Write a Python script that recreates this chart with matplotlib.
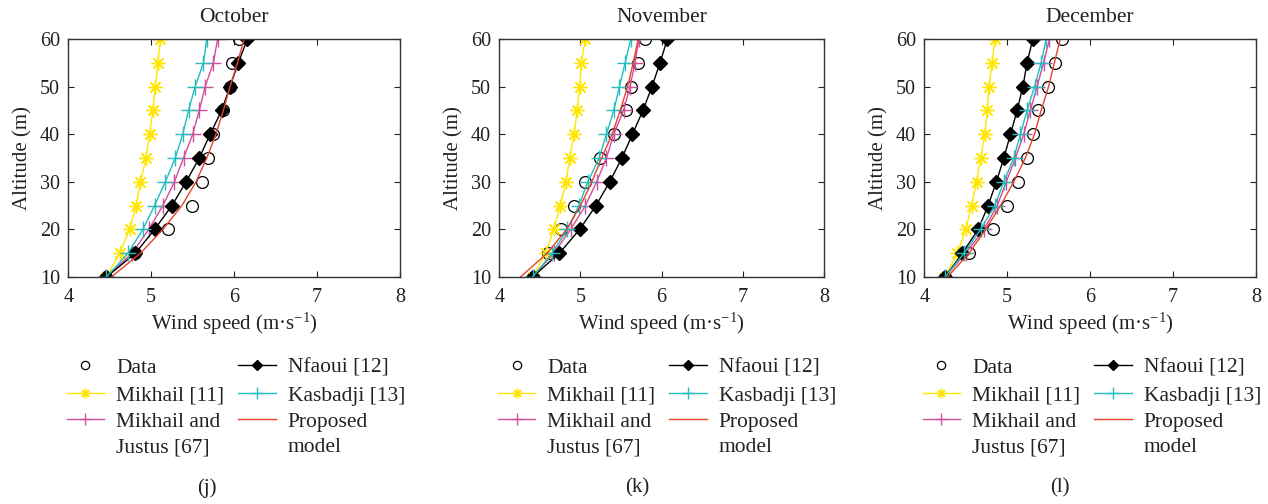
import matplotlib
matplotlib.use("Agg")
import numpy as np
import matplotlib.pyplot as plt
from matplotlib.legend_handler import HandlerLine2D

plt.rcParams['font.family'] = ['Liberation Serif', 'DejaVu Serif']
plt.rcParams['mathtext.fontset'] = 'custom'
plt.rcParams['mathtext.rm'] = 'Liberation Serif'
plt.rcParams['mathtext.it'] = 'Liberation Serif:italic'

heights = [10, 15, 20, 25, 30, 35, 40, 45, 50, 55, 60]

months = ["October", "November", "December"]
captions = ["(j)", "(k)", "(l)"]

data_oct = [4.46, 4.81, 5.20, 5.49, 5.61, 5.69, 5.75, 5.87, 5.95, 5.97, 6.06]
mikhail_oct = [4.46, 4.62, 4.74, 4.82, 4.87, 4.94, 4.98, 5.02, 5.05, 5.08, 5.11]
mj_oct = [4.46, 4.77, 4.97, 5.14, 5.28, 5.39, 5.50, 5.58, 5.65, 5.75, 5.80]
nfaoui_oct = [4.46, 4.81, 5.04, 5.25, 5.42, 5.58, 5.71, 5.85, 5.95, 6.05, 6.16]
kasbadji_oct = [4.46, 4.72, 4.90, 5.04, 5.17, 5.29, 5.38, 5.45, 5.53, 5.63, 5.67]
proposed_oct = [4.52, 4.87, 5.14, 5.37, 5.54, 5.67, 5.78, 5.87, 5.95, 6.04, 6.12]

data_nov = [4.41, 4.60, 4.76, 4.92, 5.06, 5.24, 5.41, 5.56, 5.62, 5.71, 5.79]
mikhail_nov = [4.41, 4.57, 4.67, 4.75, 4.82, 4.87, 4.92, 4.96, 4.99, 5.01, 5.06]
mj_nov = [4.41, 4.67, 4.88, 5.06, 5.20, 5.32, 5.41, 5.53, 5.61, 5.67, 5.72]
nfaoui_nov = [4.41, 4.74, 4.99, 5.19, 5.36, 5.51, 5.64, 5.77, 5.88, 5.98, 6.07]
kasbadji_nov = [4.41, 4.65, 4.84, 4.98, 5.09, 5.23, 5.32, 5.41, 5.48, 5.55, 5.62]
proposed_nov = [4.26, 4.59, 4.83, 5.00, 5.14, 5.26, 5.39, 5.49, 5.58, 5.65, 5.71]

data_dec = [4.25, 4.54, 4.83, 5.00, 5.13, 5.24, 5.31, 5.37, 5.49, 5.58, 5.66]
mikhail_dec = [4.25, 4.40, 4.50, 4.57, 4.63, 4.68, 4.73, 4.76, 4.78, 4.82, 4.85]
mj_dec = [4.25, 4.50, 4.72, 4.88, 4.99, 5.10, 5.20, 5.28, 5.36, 5.44, 5.51]
nfaoui_dec = [4.25, 4.46, 4.65, 4.77, 4.87, 4.96, 5.04, 5.12, 5.19, 5.24, 5.31]
kasbadji_dec = [4.25, 4.48, 4.68, 4.85, 4.96, 5.08, 5.16, 5.24, 5.33, 5.41, 5.47]
proposed_dec = [4.28, 4.54, 4.74, 4.92, 5.08, 5.22, 5.33, 5.41, 5.50, 5.57, 5.64]

series_names = ["Data", "Mikhail [11]", "Mikhail and\nJustus [67]",
                "Nfaoui [12]", "Kasbadji [13]", "Proposed\nmodel"]

month_series = [
    [data_oct, mikhail_oct, mj_oct, nfaoui_oct, kasbadji_oct, proposed_oct],
    [data_nov, mikhail_nov, mj_nov, nfaoui_nov, kasbadji_nov, proposed_nov],
    [data_dec, mikhail_dec, mj_dec, nfaoui_dec, kasbadji_dec, proposed_dec],
]

xticks = [4, 5, 6, 7, 8]
yticks = [10, 20, 30, 40, 50, 60]

styles = [
    dict(color='black', linestyle='none', marker='o', markersize=8.5,
         markerfacecolor='none', markeredgewidth=0.9),
    dict(color='#FFE600', linestyle='-', linewidth=1.0, marker=(8, 2, 0),
         markersize=10, markeredgewidth=1.0),
    dict(color='#D24D9B', linestyle='-', linewidth=1.0, marker='+',
         markersize=12, markeredgewidth=1.0),
    dict(color='black', linestyle='-', linewidth=1.0, marker='D',
         markersize=7.5, markerfacecolor='black'),
    dict(color='#25BDBD', linestyle='-', linewidth=1.0, marker='+',
         markersize=12, markeredgewidth=1.0),
    dict(color='#E8432B', linestyle='-', linewidth=1.0),
]

LEG_FS = 15.5
LINESP = 1.42


class FirstLineHandler(HandlerLine2D):
    """Places the legend handle at the level of the first label line."""

    def __init__(self, shift, **kw):
        super().__init__(**kw)
        self.shift = shift

    def create_artists(self, legend, orig_handle, xdescent, ydescent, width,
                       height, fontsize, trans):
        arts = super().create_artists(legend, orig_handle, xdescent, ydescent,
                                      width, height, fontsize, trans)
        for a in arts:
            a.set_ydata(np.asarray(a.get_ydata(), dtype=float) + self.shift)
        return arts


fig = plt.figure(figsize=(12.68, 5.04), dpi=100)

positions = [
    [0.05386, 0.4504, 0.2616, 0.4722],
    [0.39377, 0.4504, 0.2561, 0.4722],
    [0.72894, 0.4504, 0.2614, 0.4722],
]
caption_x = [207 / 1268, 637 / 1268, 1060 / 1268]

TXT = '#222222'

for i, month in enumerate(months):
    ax = fig.add_axes(positions[i])
    lines = []
    for vals, name, st in zip(month_series[i], series_names, styles):
        ln, = ax.plot(vals, heights, label=name, **st)
        lines.append(ln)
    ax.set_xlim(4, 8)
    ax.set_ylim(10, 60)
    ax.set_xticks(xticks)
    ax.set_yticks(yticks)
    ax.tick_params(direction='in', top=True, right=True, length=4,
                   width=0.8, labelsize=14.5, colors=TXT)
    ax.tick_params(axis='x', pad=8)
    ax.tick_params(axis='y', pad=6)
    for sp in ax.spines.values():
        sp.set_linewidth(1.0)
        sp.set_color('#333333')
    ax.set_title(month, fontsize=15.5, pad=12, color=TXT)
    ax.set_xlabel(r'Wind speed (m·s$^{-1}$)', fontsize=15, labelpad=3,
                  color=TXT)
    ax.set_ylabel('Altitude (m)', fontsize=15, labelpad=5, color=TXT)
    shift = 0.5 * LINESP * LEG_FS
    hmap = {lines[2]: FirstLineHandler(shift), lines[5]: FirstLineHandler(shift)}
    leg = ax.legend(loc='upper left', bbox_to_anchor=(-0.005, -0.34), ncol=2,
                    frameon=False, fontsize=LEG_FS, borderpad=0,
                    borderaxespad=0, handlelength=1.75, handletextpad=0.55,
                    columnspacing=0.65, labelspacing=0.35, markerscale=0.7,
                    handler_map=hmap)
    for t in leg.get_texts():
        t.set_linespacing(LINESP)
        t.set_color(TXT)
    fig.text(caption_x[i], (504 - 488) / 504, captions[i],
             ha='center', va='center', fontsize=15, color=TXT)

fig.savefig('out.png', dpi=100)
